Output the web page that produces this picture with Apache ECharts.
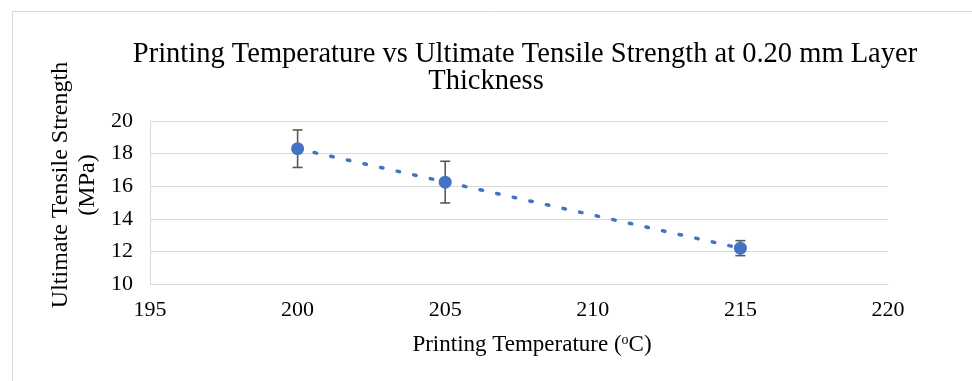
<!DOCTYPE html>
<html>
<head>
<meta charset="utf-8">
<script src="https://cdn.jsdelivr.net/npm/echarts@6/dist/echarts.min.js"></script>
<style>
html,body{margin:0;padding:0;background:#fff;}
#chart{width:972px;height:381px;}
</style>
</head>
<body>
<div id="chart"></div>
<script>
// ---- data ----
var temperatures = [200, 205, 215];
var strengthMean = [18.3, 16.25, 12.2];
var strengthErr = [1.15, 1.28, 0.46];
var xTicks = [195, 200, 205, 210, 215, 220];
var yTicks = [10, 12, 14, 16, 18, 20];
var titleLine1 = 'Printing Temperature vs Ultimate Tensile Strength at 0.20 mm Layer';
var titleLine2 = 'Thickness';
var yTitle = 'Ultimate Tensile Strength\n(MPa)';

// linear trendline via least squares
function linFit(xs, ys) {
  var n = xs.length, mx = 0, my = 0;
  for (var i = 0; i < n; i++) { mx += xs[i]; my += ys[i]; }
  mx /= n; my /= n;
  var sxx = 0, sxy = 0;
  for (var j = 0; j < n; j++) { sxx += (xs[j]-mx)*(xs[j]-mx); sxy += (xs[j]-mx)*(ys[j]-my); }
  var b = sxy / sxx, a = my - b * mx;
  return function (x) { return a + b * x; };
}
var fit = linFit(temperatures, strengthMean);
var xFirst = temperatures[0], xLast = temperatures[temperatures.length - 1];
var trendData = [[xFirst, fit(xFirst)], [xLast, fit(xLast)]];
var points = temperatures.map(function (t, i) { return [t, strengthMean[i]]; });
var errData = temperatures.map(function (t, i) { return [t, strengthMean[i] - strengthErr[i], strengthMean[i] + strengthErr[i]]; });

var FONT = "'Liberation Serif', 'Times New Roman', serif";
var chart = echarts.init(document.getElementById('chart'));
chart.setOption({
  animation: false,
  grid: { left: 150, right: 84, top: 121, bottom: 97 },
  xAxis: {
    type: 'value', min: xTicks[0], max: xTicks[xTicks.length - 1], interval: 5,
    axisLine: { show: true, lineStyle: { color: '#d9d9d9', width: 1 } },
    axisTick: { show: false },
    splitLine: { show: false },
    axisLabel: { color: '#000', fontFamily: FONT, fontSize: 22, margin: 15 }
  },
  yAxis: {
    type: 'value', min: yTicks[0], max: yTicks[yTicks.length - 1], interval: 2,
    axisLine: { show: true, lineStyle: { color: '#d9d9d9', width: 1 } },
    axisTick: { show: false },
    splitLine: { show: true, lineStyle: { color: '#d9d9d9', width: 1 } },
    axisLabel: { color: '#000', fontFamily: FONT, fontSize: 22, margin: 17 }
  },
  graphic: [
    { type: 'rect', silent: true, z: -10, shape: { x: 12.5, y: 11.5, width: 1000, height: 400 },
      style: { fill: 'none', stroke: '#d9d9d9', lineWidth: 1 } },
    { type: 'text', x: 525, y: 55, style: { text: titleLine1, font: '28.5px ' + FONT, fill: '#000', textAlign: 'center', textVerticalAlign: 'middle' } },
    { type: 'text', x: 486, y: 82, style: { text: titleLine2, font: '28.5px ' + FONT, fill: '#000', textAlign: 'center', textVerticalAlign: 'middle' } },
    { type: 'text', x: 74, y: 185, rotation: Math.PI / 2,
      style: { text: yTitle, font: '24px ' + FONT, fill: '#000', textAlign: 'center', textVerticalAlign: 'middle', lineHeight: 27 } },
    { type: 'text', x: 532, y: 345,
      style: { text: 'Printing Temperature ({s|o}C)', font: '23px ' + FONT, fill: '#000', textAlign: 'center', textVerticalAlign: 'middle',
        rich: { s: { fontSize: 14, fontFamily: FONT, fill: '#000', verticalAlign: 'top', padding: [0, 0, 8, 0] } } } }
  ],
  series: [
    {
      type: 'line', data: trendData, symbol: 'none', z: 2,
      lineStyle: { color: '#4472C4', width: 3.5, type: [2.5, 14.5], cap: 'round' }
    },
    {
      type: 'custom', z: 3, data: errData,
      renderItem: function (params, api) {
        var x = api.value(0);
        var lo = api.coord([x, api.value(1)]);
        var hi = api.coord([x, api.value(2)]);
        var hw = 5;
        var st = { stroke: '#595959', lineWidth: 1.6 };
        return { type: 'group', children: [
          { type: 'line', shape: { x1: lo[0], y1: lo[1], x2: hi[0], y2: hi[1] }, style: st },
          { type: 'line', shape: { x1: lo[0] - hw, y1: lo[1], x2: lo[0] + hw, y2: lo[1] }, style: st },
          { type: 'line', shape: { x1: hi[0] - hw, y1: hi[1], x2: hi[0] + hw, y2: hi[1] }, style: st }
        ] };
      }
    },
    {
      type: 'scatter', data: points, z: 4, symbol: 'circle', symbolSize: 13,
      itemStyle: { color: '#4472C4', opacity: 1 }
    }
  ]
});
</script>
</body>
</html>
